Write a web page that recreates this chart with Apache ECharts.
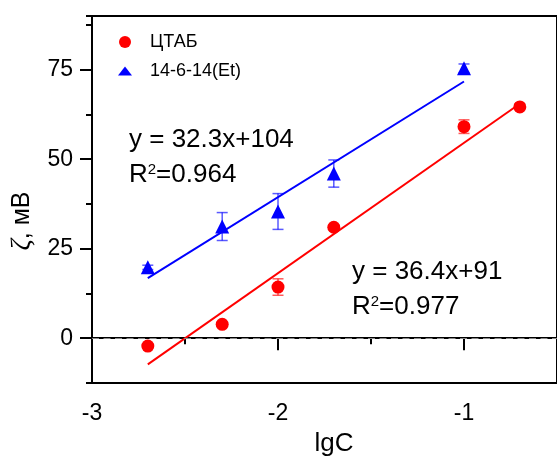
<!DOCTYPE html>
<html><head><meta charset="utf-8">
<script src="https://cdn.jsdelivr.net/npm/echarts@6/dist/echarts.min.js"></script>
<style>html,body{margin:0;padding:0;background:#fff}#c{width:557px;height:459px}</style>
</head><body><div id="c"></div>
<script>
const lgC = [-2.7, -2.3, -2.0, -1.7, -1.0, -0.7];
const ctabZeta = [-2.2, 3.9, 14.3, 31.0, 59.1, 64.6];
const ctabErr = [0.6, 0.6, 2.3, 0.6, 1.9, 0.8];
const gemX = [-2.7, -2.3, -2.0, -1.7, -1.0];
const gemZeta = [19.8, 31.2, 35.4, 46.0, 75.4];
const gemErr = [0.6, 3.9, 5.0, 3.8, 1.2];
const ctabFitX = [-2.7, -0.7];
const ctabFitY = [-7.3, 65.5];
const gemFitX = [-2.7, -1.0];
const gemFitY = [16.8, 71.7];
const yMajor = [0, 25, 50, 75];
const xMajor = [-3, -2, -1];

const FONT = 'Liberation Sans, Arial, sans-serif';
const RED = '#ff0000', BLUE = '#0000ff';

function errSeries(xs, ys, es, color) {
  return {
    type: 'custom', silent: true, z: 3,
    data: xs.map((x, i) => [x, ys[i], es[i]]),
    renderItem: function (params, api) {
      const x = api.value(0), y = api.value(1), e = api.value(2);
      const t = api.coord([x, y + e]), b = api.coord([x, y - e]);
      const w = 5.5;
      const st = {stroke: color, lineWidth: 1.5, opacity: 0.65};
      return {type: 'group', children: [
        {type: 'line', shape: {x1: t[0], y1: t[1], x2: b[0], y2: b[1]}, style: st},
        {type: 'line', shape: {x1: t[0]-w, y1: t[1], x2: t[0]+w, y2: t[1]}, style: st},
        {type: 'line', shape: {x1: b[0]-w, y1: b[1], x2: b[0]+w, y2: b[1]}, style: st}
      ]};
    }
  };
}

const chart = echarts.init(document.getElementById('c'), null, {renderer: 'canvas'});
const axisLineStyle = {color: '#000', width: 2};
const supRich = {s: {fontSize: 15, fontFamily: FONT, verticalAlign: 'top', lineHeight: 26, padding: [0, 0, 9, 0]}};
const labelStyle = {fontFamily: FONT, fontSize: 23, color: '#000', margin: 19};
const triIcon = 'path://M0,0M40,12M13,10.5L20,1.5L27,10.5Z';
chart.setOption({
  animation: false,
  grid: {left: 92, top: 16, width: 467, height: 367, show: true, borderColor: '#000', borderWidth: 2},
  legend: {
    orient: 'vertical', left: 100, top: 28, itemWidth: 40, itemHeight: 12, itemGap: 11,
    symbolKeepAspect: true,
    textStyle: {fontFamily: FONT, fontSize: 18, color: '#000'},
    data: [{name: 'ЦТАБ', icon: 'circle'}, {name: '14-6-14(Et)', icon: triIcon}]
  },
  xAxis: [{
    type: 'value', min: -3, max: -0.5, interval: 0.5,
    axisLine: {show: true, lineStyle: axisLineStyle},
    axisTick: {show: true, length: 6, lineStyle: {width: 2, color: '#000'}},
    axisLabel: {show: false},
    splitLine: {show: false}
  }, {
    type: 'value', min: -3, max: -0.5, interval: 1, position: 'bottom',
    axisLine: {show: false},
    axisTick: {show: true, length: 12, customValues: xMajor, lineStyle: {width: 2, color: '#000'}},
    axisLabel: Object.assign({show: true, customValues: xMajor}, labelStyle),
    splitLine: {show: false}
  }],
  yAxis: [{
    type: 'value', min: -12.5, max: 90, interval: 12.5,
    axisLine: {show: true, lineStyle: axisLineStyle},
    axisTick: {show: true, length: 6, lineStyle: {width: 2, color: '#000'}},
    axisLabel: {show: false},
    splitLine: {show: false}
  }, {
    type: 'value', min: -12.5, max: 90, position: 'left',
    axisLine: {show: false},
    axisTick: {show: true, length: 12, customValues: yMajor, lineStyle: {width: 2, color: '#000'}},
    axisLabel: Object.assign({show: true, customValues: yMajor}, labelStyle),
    splitLine: {show: false}
  }],
  series: [
    {
      name: 'zero', type: 'line', data: [], silent: true,
      markLine: {symbol: 'none', silent: true, label: {show: false},
        lineStyle: {color: '#888888', type: [7, 4.5], width: 1.2, opacity: 1},
        emphasis: {disabled: true},
        data: [{yAxis: 0}]}
    },
    {type: 'line', data: ctabFitX.map((x, i) => [x, ctabFitY[i]]), symbol: 'none', silent: true,
      lineStyle: {color: RED, width: 2}, z: 2},
    {type: 'line', data: gemFitX.map((x, i) => [x, gemFitY[i]]), symbol: 'none', silent: true,
      lineStyle: {color: BLUE, width: 2}, z: 2},
    errSeries(lgC, ctabZeta, ctabErr, RED),
    errSeries(gemX, gemZeta, gemErr, BLUE),
    {name: 'ЦТАБ', type: 'scatter', symbol: 'circle', symbolSize: 13, z: 4,
      itemStyle: {color: RED, opacity: 1}, data: lgC.map((x, i) => [x, ctabZeta[i]])},
    {name: '14-6-14(Et)', type: 'scatter', symbol: 'triangle', symbolSize: 14, z: 4,
      itemStyle: {color: BLUE, opacity: 1}, data: gemX.map((x, i) => [x, gemZeta[i]])}
  ],
  graphic: [
    {type: 'text', left: 129, top: 127, style: {text: 'y = 32.3x+104', fontSize: 26, fontFamily: FONT, fill: '#000'}},
    {type: 'text', left: 129, top: 162, style: {
      text: 'R{s|2}=0.964', fontSize: 26, fontFamily: FONT, fill: '#000', rich: supRich}},
    {type: 'text', left: 352, top: 259, style: {text: 'y = 36.4x+91', fontSize: 26, fontFamily: FONT, fill: '#000'}},
    {type: 'text', left: 352, top: 294, style: {
      text: 'R{s|2}=0.977', fontSize: 26, fontFamily: FONT, fill: '#000', rich: supRich}},
    {type: 'text', x: 334, y: 444, style: {text: 'lgC', fontSize: 26, fontFamily: FONT, fill: '#000',
      align: 'center', verticalAlign: 'middle'}},
    {type: 'text', x: 22, y: 221, rotation: Math.PI / 2, style: {
      text: '{z|ζ}, мВ', fontSize: 25, fontFamily: FONT, fill: '#000', align: 'center', verticalAlign: 'middle',
      rich: {z: {fontStyle: 'italic', fontSize: 28, fontFamily: 'Liberation Serif, serif'}}}}
  ]
});
</script></body></html>
